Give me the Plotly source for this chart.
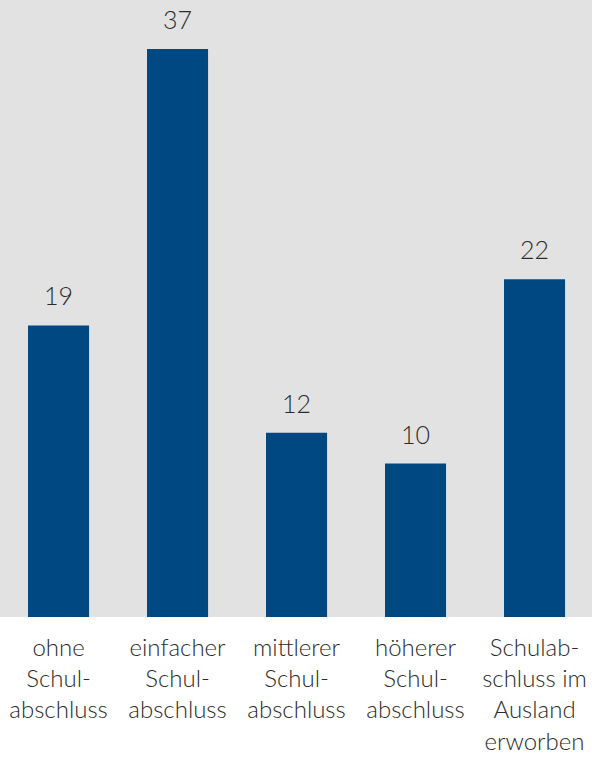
import plotly.graph_objects as go

# Anteile nach Schulabschluss (in %)
categories = [
    "ohne<br>Schul-<br>abschluss",
    "einfacher<br>Schul-<br>abschluss",
    "mittlerer<br>Schul-<br>abschluss",
    "höherer<br>Schul-<br>abschluss",
    "Schulab-<br>schluss im<br>Ausland<br>erworben",
]
values = [19, 37, 12, 10, 22]

BAR_COLOR = "#004882"
BG_COLOR = "#e2e2e2"
TEXT_COLOR = "#2b2b2b"
FONT = "Lato, 'Open Sans', sans-serif"

x_idx = list(range(len(values)))

fig = go.Figure(
    go.Bar(
        x=x_idx,
        y=values,
        width=0.513,
        marker=dict(color=BAR_COLOR, line=dict(width=0)),
        hoverinfo="skip",
    )
)

# value labels above each bar
for xi, v in zip(x_idx, values):
    fig.add_annotation(
        x=xi, y=v, text=str(v), showarrow=False,
        yanchor="bottom", yshift=13,
        font=dict(family=FONT, size=25, color=TEXT_COLOR, weight=300),
    )

fig.update_layout(
    width=592, height=758,
    margin=dict(l=0, r=0, t=0, b=141),
    plot_bgcolor=BG_COLOR,
    paper_bgcolor="white",
    showlegend=False,
    font=dict(family=FONT, color=TEXT_COLOR),
    xaxis=dict(
        tickmode="array", tickvals=x_idx, ticktext=categories,
        range=[-0.492, 4.483],
        showgrid=False, zeroline=False, showline=False, ticks="",
        tickfont=dict(family=FONT, size=24, color=TEXT_COLOR, weight=300),
        ticklabelstandoff=14,
        fixedrange=True,
    ),
    yaxis=dict(
        range=[0, 40.2], visible=False, showgrid=False, zeroline=False,
        fixedrange=True,
    ),
)

fig.write_html("out.html")
